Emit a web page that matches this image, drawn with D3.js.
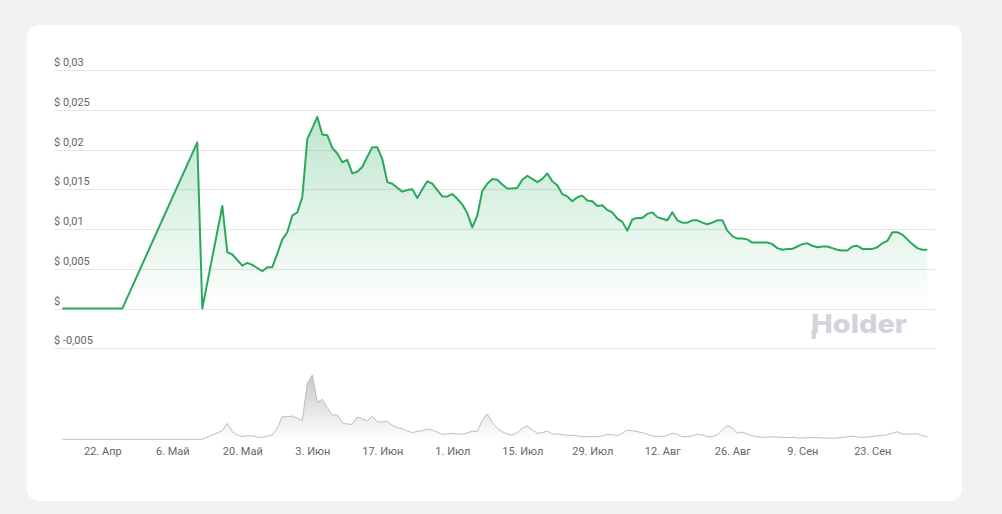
<!DOCTYPE html>
<html><head><meta charset="utf-8">
<script src="https://cdn.jsdelivr.net/npm/d3@7"></script>
<style>
html,body{margin:0;padding:0;background:#f2f2f2;}
svg{display:block;font-family:Roboto,"Open Sans",sans-serif;}
</style></head>
<body><svg id="c" width="1002" height="514"></svg>
<script>
// ---- data ----
const dates = ["04-14","04-26","05-11","05-12","05-16","05-17","05-18","05-19","05-20","05-21","05-22","05-23","05-24","05-25","05-26","05-27","05-28","05-29","05-30","05-31",
"06-01","06-02","06-03","06-04","06-05","06-06","06-07","06-08","06-09","06-10","06-11","06-12","06-13","06-14","06-15","06-16","06-17","06-18","06-19","06-20",
"06-21","06-22","06-23","06-24","06-25","06-26","06-27","06-28","06-29","06-30","07-01","07-02","07-03","07-04","07-05","07-06","07-07","07-08","07-09","07-10",
"07-11","07-12","07-13","07-14","07-15","07-16","07-17","07-18","07-19","07-20","07-21","07-22","07-23","07-24","07-25","07-26","07-27","07-28","07-29","07-30",
"07-31","08-01","08-02","08-03","08-04","08-05","08-06","08-07","08-08","08-09","08-10","08-11","08-12","08-13","08-14","08-15","08-16","08-17","08-18","08-19",
"08-20","08-21","08-22","08-23","08-24","08-25","08-26","08-27","08-28","08-29","08-30","08-31","09-01","09-02","09-03","09-04","09-05","09-06","09-07","09-08",
"09-09","09-10","09-11","09-12","09-13","09-14","09-15","09-16","09-17","09-18","09-19","09-20","09-21","09-22","09-23","09-24","09-25","09-26","09-27","09-28",
"09-29","09-30","10-01","10-02","10-03","10-04"];
const prices = [0,0,0.0209,0,0.0129,0.0071,0.0068,0.0061,0.0054,0.00575,0.0055,0.0051,0.0047,0.0052,0.0052,0.0069,0.0087,0.0096,0.0117,0.0121,
0.0140,0.0213,0.0227,0.0241,0.0219,0.0218,0.0202,0.0195,0.0184,0.0187,0.0170,0.0172,0.0178,0.0191,0.0203,0.0203,0.0188,0.0159,0.0157,0.0152,
0.0147,0.0149,0.0150,0.0139,0.0150,0.0160,0.0157,0.0149,0.0141,0.0141,0.0144,0.0138,0.0131,0.0120,0.0102,0.0117,0.0148,0.0157,0.0163,0.0162,
0.0156,0.0151,0.0151,0.0152,0.0162,0.0167,0.0163,0.0159,0.0163,0.0170,0.0160,0.0155,0.0144,0.0141,0.0135,0.0140,0.0142,0.0136,0.0135,0.0129,
0.0130,0.0124,0.0121,0.0113,0.0109,0.0098,0.0112,0.0114,0.0114,0.0119,0.0121,0.0115,0.0113,0.0111,0.0121,0.0111,0.0108,0.0108,0.0111,0.0111,
0.0108,0.0106,0.0108,0.0111,0.0111,0.0098,0.0091,0.0088,0.0088,0.0087,0.0083,0.0083,0.0083,0.0083,0.0081,0.0076,0.0074,0.0075,0.0075,0.0078,
0.0081,0.0082,0.0079,0.0077,0.0078,0.0078,0.0076,0.0074,0.0073,0.0073,0.0078,0.0079,0.0075,0.0075,0.0075,0.0077,0.0082,0.0085,0.0096,0.0096,
0.0093,0.0087,0.0081,0.0076,0.0074,0.0074];
const volumes = [0,0,0,0,8.6,16,7.6,4.3,2.6,3.6,3.3,2.3,2,3.3,4.3,11,22.6,22.6,23.3,21,
18.6,56,64.3,37,40,31.6,24.3,24.3,16.6,15.3,15,22.3,20.6,18.6,23,17.6,17.3,18,14.3,11.6,
10.6,8.3,6.6,8,8.6,10.3,9.3,7,5,5.3,6,5.3,5.3,6.3,8.3,7.6,19.3,25.3,16.6,11,
7.6,5.3,4.3,6.6,11,13.3,9.3,6,6.6,8.3,5.3,5.3,4.6,4,4,3.3,2.6,2.6,2.6,2.6,
3.3,5,4.6,3.6,6,9,8.6,7.6,6.6,5,3.3,3,3,3.6,6.3,5,2.6,2.6,3.6,5.3,
4.3,2.6,2.6,4.3,9.3,14,11.6,6,7.3,5.3,3.6,2.6,2,2.3,2.3,2.3,2,1.7,2,1.3,
1.3,1.7,1.7,1.7,1.3,1.3,1,1.3,2,2.6,3.3,2.3,2,2.3,2.6,3.6,3.6,4.6,6,7.6,
5.3,5.3,5.3,5.6,3.6,2.6];
const yTicks = [-0.005,0,0.005,0.01,0.015,0.02,0.025,0.03];
const yTickLabels = ["$ -0,005","$","$ 0,005","$ 0,01","$ 0,015","$ 0,02","$ 0,025","$ 0,03"];
const xTickDates = ["04-22","05-06","05-20","06-03","06-17","07-01","07-15","07-29","08-12","08-26","09-09","09-23"];
const xTickLabels = ["22. Апр","6. Май","20. Май","3. Июн","17. Июн","1. Июл","15. Июл","29. Июл","12. Авг","26. Авг","9. Сен","23. Сен"];

// ---- chart ----
const parse = s => d3.timeParse("%Y-%m-%d")("2024-" + s);
const data = dates.map((d,i)=>({date:parse(d), p:prices[i], v:volumes[i]}));
const svg = d3.select("#c");

svg.append("rect").attr("x",27).attr("y",25).attr("width",935).attr("height",476).attr("rx",12).attr("fill","#fff");

const x = d3.scaleTime().domain([parse("04-14"), parse("10-04")]).range([62.3, 927.3]);
const y = d3.scaleLinear().domain([-0.005, 0.03]).range([348.3, 70]);
const yv = d3.scaleLinear().domain([0, 64.3]).range([439.3, 375]);

const defs = svg.append("defs");
const g1 = defs.append("linearGradient").attr("id","gp").attr("x1",0).attr("y1",0).attr("x2",0).attr("y2",1);
g1.append("stop").attr("offset","0%").attr("stop-color","#2bab5e").attr("stop-opacity",0.3);
g1.append("stop").attr("offset","100%").attr("stop-color","#2bab5e").attr("stop-opacity",0);
const g2 = defs.append("linearGradient").attr("id","gv").attr("x1",0).attr("y1",0).attr("x2",0).attr("y2",1);
g2.append("stop").attr("offset","0%").attr("stop-color","#9a9a9a").attr("stop-opacity",0.55);
g2.append("stop").attr("offset","100%").attr("stop-color","#9a9a9a").attr("stop-opacity",0);

// grid + y labels
const gy = svg.append("g");
yTicks.forEach((t,i)=>{
  gy.append("line").attr("x1",54).attr("x2",935).attr("y1",Math.round(y(t))+0.5).attr("y2",Math.round(y(t))+0.5)
    .attr("stroke","#e6e6e6").attr("stroke-width",1);
  gy.append("text").attr("x",54).attr("y",y(t)-4).attr("font-size",11).attr("fill","#666").text(yTickLabels[i]);
});

// price area + line
svg.append("path").datum(data)
  .attr("d", d3.area().x(d=>x(d.date)).y0(y(0)).y1(d=>y(d.p)))
  .attr("fill","url(#gp)");
svg.append("path").datum(data)
  .attr("d", d3.line().x(d=>x(d.date)).y(d=>y(d.p)))
  .attr("fill","none").attr("stroke","#2aa95c").attr("stroke-width",2).attr("stroke-linejoin","round");

// volume
svg.append("path").datum(data)
  .attr("d", d3.area().x(d=>x(d.date)).y0(yv(0)).y1(d=>yv(d.v)))
  .attr("fill","url(#gv)");
svg.append("path").datum(data)
  .attr("d", d3.line().x(d=>x(d.date)).y(d=>yv(d.v)))
  .attr("fill","none").attr("stroke","#bdbdbd").attr("stroke-width",1);

// x axis labels
const xa = svg.append("g").attr("transform","translate(0,446)")
  .call(d3.axisBottom(x).tickValues(xTickDates.map(parse)).tickSize(0).tickPadding(0)
    .tickFormat((d,i)=>xTickLabels[i]));
xa.select(".domain").remove();
xa.selectAll("text").attr("font-size",11).attr("fill","#666").attr("font-family","Roboto,sans-serif").attr("dy","0.85em");

// watermark
const wm = svg.append("g").attr("fill","#d3d3db");
wm.append("text").attr("x",811).attr("y",333).attr("font-size",26).attr("font-weight",800)
  .attr("font-family","Inter,Roboto,sans-serif").attr("textLength",96).attr("lengthAdjust","spacingAndGlyphs").text("Holder");
wm.append("rect").attr("x",811.5).attr("y",330).attr("width",4.5).attr("height",9);
</script></body></html>
